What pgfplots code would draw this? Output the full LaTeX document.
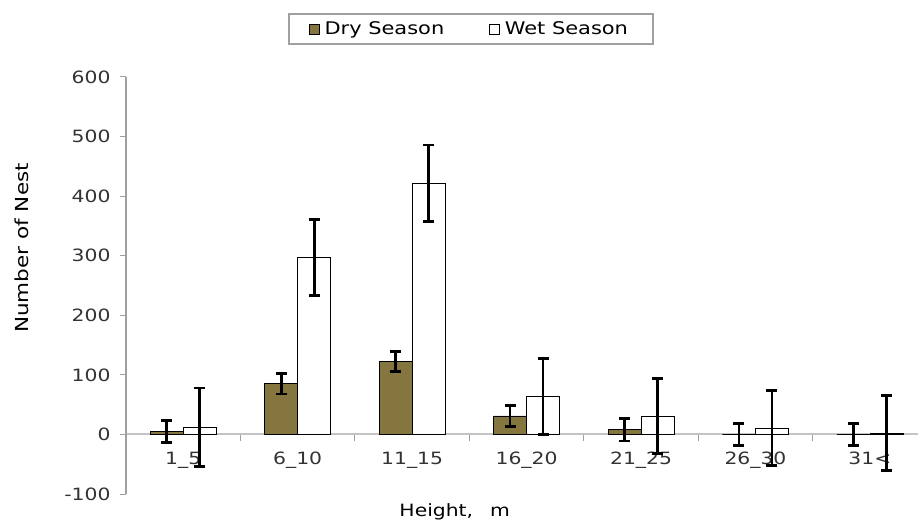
\documentclass[border=0pt]{standalone}
\usepackage{pgfplots}
\pgfplotsset{compat=1.18}
\usepackage{pgfplotstable}
\usepackage{fontspec}
\setmainfont{DejaVu Sans}[FakeStretch=1.2]
\definecolor{dry}{HTML}{857640}
\definecolor{axgray}{HTML}{A0A0A0}
\definecolor{zerogray}{HTML}{C4C4C4}

\pgfplotstableread{
x dry dryerr wet weterr
0 5   18 12  66
1 85  17 297 64
2 122 17 422 64
3 31  18 64  64
4 8   19 31  63
5 0   18 11  63
6 0   18 2   63
}\nestdata

\begin{document}
\begin{tikzpicture}
\begin{axis}[
  at={(126bp,35bp)}, anchor=south west,
  scale only axis, width=792bp, height=417bp,
  xmin=-0.5, xmax=6.42, ymin=-100, ymax=600,
  ybar=0pt, bar width=33bp,
  axis y line=left, axis x line=middle,
  y axis line style={-, axgray, line width=1.2bp},
  x axis line style={-, zerogray, line width=2bp},
  ytick={-100,0,...,600},
  tick align=outside, major tick length=6bp,
  major y tick style={axgray, line width=1bp},
  xtick={0.5,1.5,...,5.5},
  xticklabels={},
  major x tick style={axgray, line width=1bp, yshift=-1bp},
  extra x ticks={0,...,6},
  extra x tick labels={1\_5,6\_10,11\_15,16\_20,21\_25,26\_30,31<},
  extra x tick style={major tick length=0pt, xticklabel style={yshift=-14bp}},
  /pgf/number format/assume math mode=true,
  tick label style={font=\fontsize{17}{20}\selectfont, text=black!80},
  yticklabel style={xshift=-6bp},
  xlabel={Height,\quad m},
  xlabel style={at={(axis description cs:0.415,0)}, anchor=center, yshift=-18bp,
    font=\fontsize{17}{20}\selectfont},
  ylabel={Number of Nest},
  ylabel style={at={(axis description cs:-0.1313,0.59)}, anchor=center,
    font=\fontsize{18}{21}\selectfont},
  legend style={at={(axis description cs:0.4356,1.115)}, anchor=center,
    legend columns=2, draw=axgray, line width=1.5bp,
    font=\fontsize{17.5}{21}\selectfont, inner xsep=20bp, inner ysep=6bp,
    /tikz/every even column/.append style={column sep=40bp},
    nodes={inner xsep=5bp}},
  legend image code/.code={\draw[#1, line width=0.6bp] (0bp,-5bp) rectangle (10bp,5bp);},
  error bars/error bar style={line width=2.8bp, black},
  error bars/error mark options={rotate=90, mark size=5.5bp, line width=2.8bp, black},
]
\addplot[fill=dry, draw=black, line width=0.6bp,
  error bars/.cd, y dir=both, y explicit]
  table[x=x, y=dry, y error=dryerr] {\nestdata};
\addlegendentry{Dry Season}
\addplot[fill=white, draw=black, line width=0.6bp,
  error bars/.cd, y dir=both, y explicit]
  table[x=x, y=wet, y error=weterr] {\nestdata};
\addlegendentry{Wet Season}
\end{axis}
\pgfresetboundingbox
\path (0,0) rectangle (918bp,529bp);
\end{tikzpicture}
\end{document}
